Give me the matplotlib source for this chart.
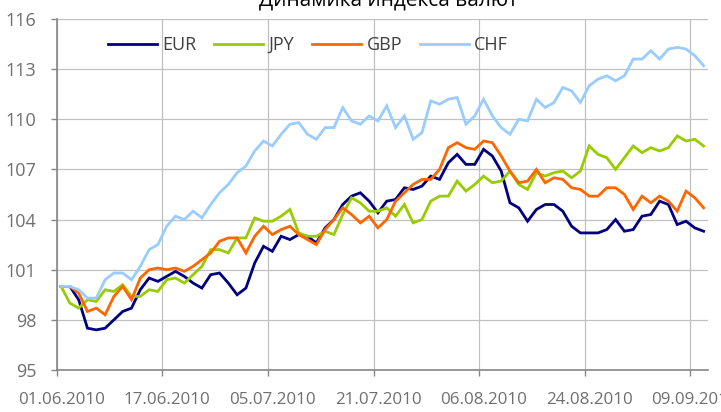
import matplotlib
matplotlib.use("Agg")
import matplotlib.pyplot as plt
import numpy as np

plt.rcParams['font.family'] = ['Open Sans', 'DejaVu Sans']

title = "Динамика индекса валют"
tick_labels = ["01.06.2010", "17.06.2010", "05.07.2010", "21.07.2010",
               "06.08.2010", "24.08.2010", "09.09.2010"]
label_step = 12

eur = [100.0, 100.0, 99.2, 97.5, 97.4, 97.5, 98.0, 98.5, 98.7, 99.8,
       100.5, 100.3, 100.6, 100.9, 100.6, 100.2, 99.9, 100.7, 100.8, 100.2,
       99.5, 99.9, 101.4, 102.4, 102.1, 103.0, 102.8, 103.1, 103.0, 102.6,
       103.5, 104.0, 104.9, 105.4, 105.6, 105.1, 104.4, 105.1, 105.2, 105.9,
       105.8, 106.0, 106.6, 106.4, 107.4, 107.9, 107.3, 107.3, 108.2, 107.8,
       106.9, 105.0, 104.7, 103.9, 104.6, 104.9, 104.9, 104.5, 103.6, 103.2,
       103.2, 103.2, 103.4, 104.0, 103.3, 103.4, 104.2, 104.3, 105.1, 104.9,
       103.7, 103.9, 103.5, 103.3]
jpy = [100.0, 99.0, 98.7, 99.2, 99.1, 99.8, 99.7, 100.1, 99.4, 99.4,
       99.8, 99.7, 100.4, 100.5, 100.2, 100.7, 101.2, 102.2, 102.2, 102.0,
       102.9, 102.9, 104.1, 103.9, 103.9, 104.2, 104.6, 103.2, 103.0, 103.0,
       103.3, 103.1, 104.3, 105.3, 105.0, 104.5, 104.5, 104.7, 104.2, 104.9,
       103.8, 104.0, 105.1, 105.4, 105.4, 106.3, 105.7, 106.1, 106.6, 106.2,
       106.3, 106.9, 106.1, 105.8, 106.8, 106.6, 106.8, 106.9, 106.5, 106.9,
       108.4, 107.9, 107.7, 107.0, 107.7, 108.4, 108.0, 108.3, 108.1, 108.3,
       109.0, 108.7, 108.8, 108.4]
gbp = [100.0, 100.0, 99.6, 98.5, 98.7, 98.3, 99.4, 100.0, 99.2, 100.5,
       101.0, 101.1, 101.0, 101.1, 100.9, 101.2, 101.6, 102.0, 102.7, 102.9,
       102.9, 102.0, 103.0, 103.6, 103.1, 103.4, 103.6, 103.1, 102.8, 102.5,
       103.4, 104.0, 104.7, 104.3, 103.8, 104.2, 103.5, 104.0, 105.1, 105.6,
       106.1, 106.4, 106.4, 107.0, 108.3, 108.6, 108.3, 108.2, 108.7, 108.6,
       107.8, 106.9, 106.2, 106.3, 107.0, 106.2, 106.5, 106.4, 105.9, 105.8,
       105.4, 105.4, 105.9, 105.9, 105.5, 104.6, 105.4, 105.0, 105.4, 105.1,
       104.5, 105.7, 105.3, 104.7]
chf = [100.0, 100.0, 99.8, 99.3, 99.3, 100.4, 100.8, 100.8, 100.4, 101.2,
       102.2, 102.5, 103.6, 104.2, 104.0, 104.5, 104.1, 104.9, 105.6, 106.1,
       106.8, 107.2, 108.1, 108.7, 108.4, 109.1, 109.7, 109.8, 109.1, 108.8,
       109.5, 109.5, 110.7, 109.9, 109.7, 110.2, 109.9, 110.8, 109.5, 110.2,
       108.8, 109.2, 111.1, 110.9, 111.2, 111.3, 109.7, 110.2, 111.2, 110.2,
       109.5, 109.1, 110.0, 109.9, 111.2, 110.7, 111.0, 111.9, 111.7, 111.0,
       112.0, 112.4, 112.6, 112.3, 112.6, 113.6, 113.6, 114.1, 113.6, 114.2,
       114.3, 114.2, 113.8, 113.2]

series = [("EUR", eur, "#000080"), ("JPY", jpy, "#99CC00"),
          ("GBP", gbp, "#FF6600"), ("CHF", chf, "#99CCFF")]

grid_col = "#c0c0c0"
axis_col = "#868686"
label_col = "#6f6f6f"

fig = plt.figure(figsize=(7.21, 4.12), dpi=100)
ax = fig.add_axes([0.0786, 0.102, 0.9034, 0.852])

x = np.arange(len(eur))
for name, vals, col in series:
    ax.plot(x, vals, color=col, lw=2.0, label=name, solid_joinstyle='miter')

ax.set_xlim(-0.5, len(eur) - 0.5)
ax.set_ylim(95, 116)
ax.set_yticks(np.arange(95, 117, 3))

# tick marks at category boundaries, labels centred on the points
ax.set_xticks(np.arange(-0.5, len(eur), label_step))
ax.set_xticks(np.arange(0, len(eur), label_step), minor=True)
ax.set_xticklabels([])
ax.set_xticklabels(tick_labels, minor=True)
ax.tick_params(axis='x', which='major', length=4.5, color=axis_col, width=1)
ax.tick_params(axis='x', which='minor', length=0, pad=16, labelsize=12.2,
               labelcolor=label_col)
ax.tick_params(axis='y', length=4.5, color=axis_col, width=1, pad=10,
               labelsize=13, labelcolor=label_col)

ax.grid(True, which='major', color=grid_col, lw=0.9)
ax.set_axisbelow(True)
for s in ['top', 'right']:
    ax.spines[s].set_visible(False)
for s in ['left', 'bottom']:
    ax.spines[s].set_color(axis_col)
    ax.spines[s].set_linewidth(1.2)

leg = ax.legend(loc='center left', bbox_to_anchor=(108 / 721, 1 - 45 / 412),
                bbox_transform=fig.transFigure, ncol=4, frameon=False,
                fontsize=13, handlelength=2.7, handletextpad=0.3,
                columnspacing=1.0, borderpad=0, borderaxespad=0)
for t in leg.get_texts():
    t.set_color("#404040")

fig.text(388 / 721, 1 - 6 / 412, title, ha='center', va='baseline',
         fontsize=15, color='black')

fig.savefig("out.png", dpi=100)
